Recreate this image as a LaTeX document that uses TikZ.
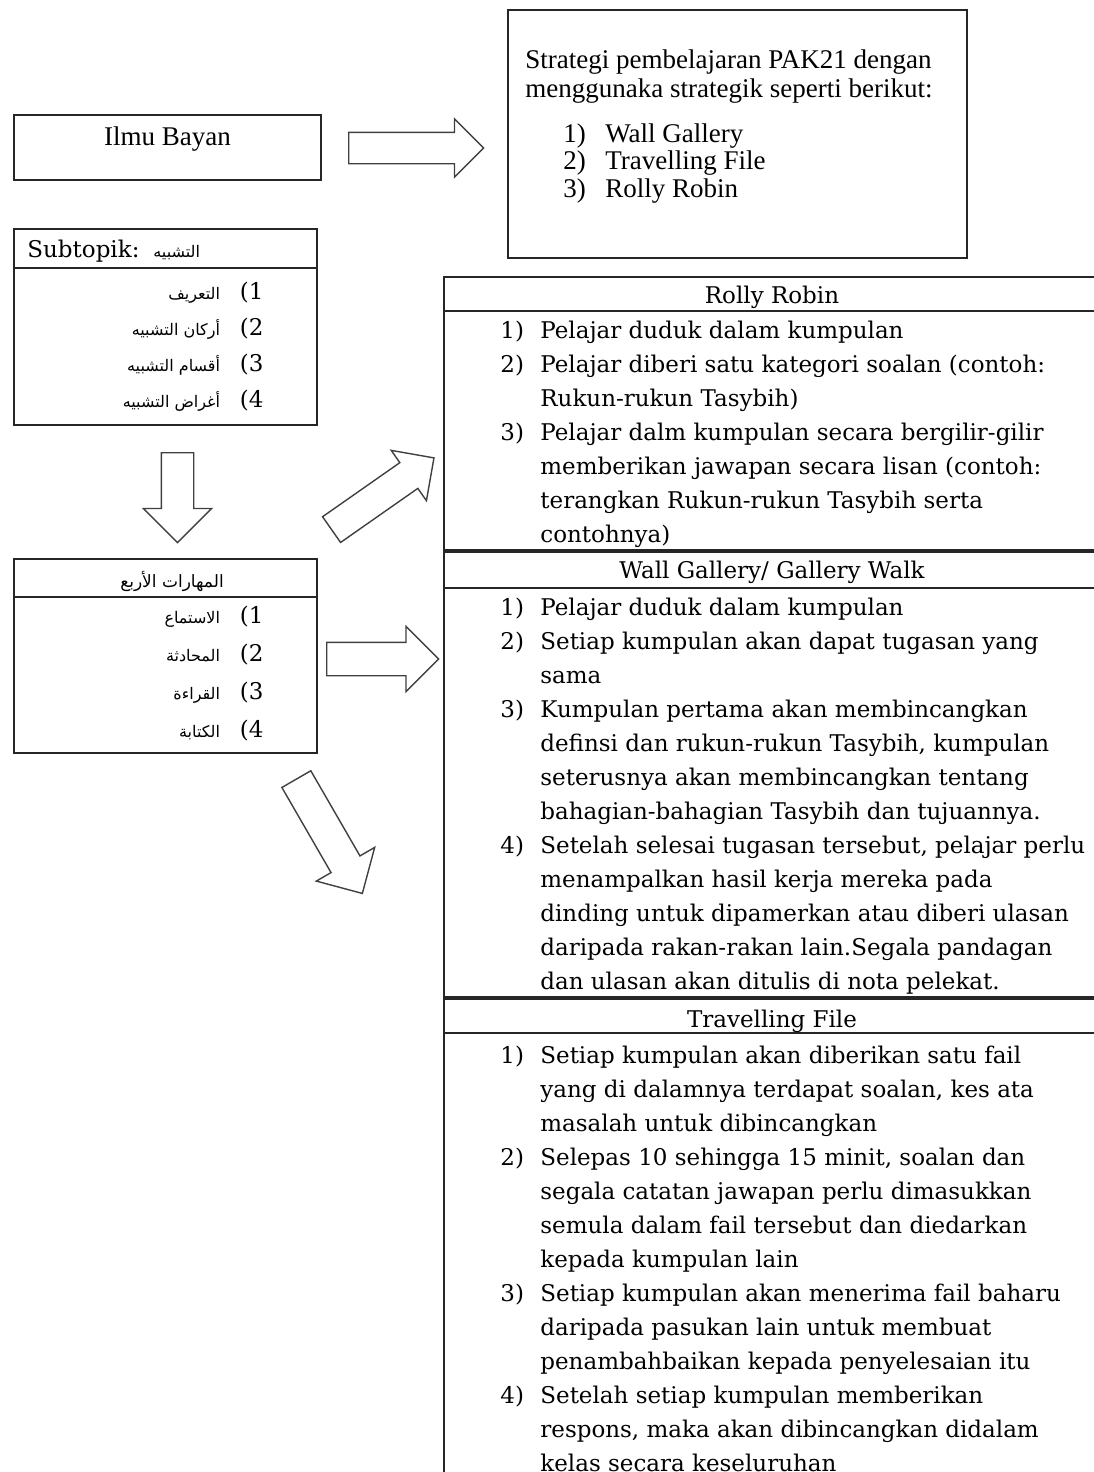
\documentclass[tikz,border=0pt]{standalone}
\usepackage{fontspec}
\setmainfont{Liberation Serif}
\newfontfamily\tabfont{DejaVu Serif}
\newfontfamily\arabicfont[Script=Arabic]{DejaVu Sans}
\TeXXeTstate=1
\usetikzlibrary{shapes.arrows,positioning,fit}

\newcommand{\ar}[1]{{\arabicfont\fontsize{8}{10}\selectfont\beginR #1\endR}}
\newcommand{\arbig}[1]{{\arabicfont\fontsize{8.5}{10}\selectfont\beginR #1\endR}}
\newcommand{\itm}[1]{\makebox[20pt][l]{#1)}}
\newcommand{\topitm}[1]{\makebox[21pt][l]{#1)}}
\newcommand{\hang}{\hspace*{20pt}}
\newcommand{\block}[1]{\begin{tabular}[t]{@{}l@{}}#1\end{tabular}}

\begin{document}
\begin{tikzpicture}[x=0.5pt,y=-0.5pt,
		box/.style={draw=black!85, line width=0.8pt, inner sep=0pt},
		sep/.style={draw=black!85, line width=0.8pt},
		thicksep/.style={draw=black!85, line width=1.6pt},
		blockarrow/.style={single arrow, draw=black!75, line width=0.7pt, fill=white,
			inner xsep=0pt, minimum width=0pt, single arrow tip angle=90, anchor=tail},
		times/.style={font=\fontsize{13.5}{14.5}\selectfont, inner sep=0pt},
		timeslist/.style={font=\fontsize{13.5}{13.75}\selectfont, inner sep=0pt},
		serif/.style={font=\tabfont\fontsize{11.5}{17}\selectfont, inner sep=0pt}
	]
	\useasboundingbox (0,0) rectangle (1093,1472);
	
	% left column
	\node[box, fit={(14,115) (321,180)}] (ilmu) {};
	\node[times, anchor=base] (ilmu_t) at (167.5,145) {Ilmu Bayan};
	
	\node[box, fit={(14,229) (317,425)}] (subtopik) {};
	\draw[sep] (14,268) -- (317,268);
	\node[serif, anchor=base west] (sub_hd) at (27,257) {Subtopik:};
	\node[inner sep=0pt, anchor=base west] (sub_ar) at (153,257) {\ar{التشبيه}};
	\foreach \txt [count=\i] in {التعريف, أركان التشبيه, أقسام التشبيه, أغراض التشبيه}
		\node[serif, anchor=base east] (sub_\i) at (264,{299+(\i-1)*36}) {\ar{\txt}\hspace{10pt}(\i};
	
	\node[box, fit={(14,559) (317,753)}] (maharat) {};
	\draw[sep] (14,597) -- (317,597);
	\node[inner sep=0pt, anchor=base] (mah_hd) at (172,587) {\arbig{المهارات الأربع}};
	\foreach \txt [count=\i] in {الاستماع, المحادثة, القراءة, الكتابة}
		\node[serif, anchor=base east] (mah_\i) at (264,{623+(\i-1)*38}) {\ar{\txt}\hspace{10pt}(\i};
	
	% strategi box
	\node[box, fit={(508,10) (967,258)}] (strategi) {};
	\node[times, anchor=base west] (str_t) at (525,68) {\block{Strategi pembelajaran PAK21 dengan\\
		menggunaka strategik seperti berikut:}};
	\node[timeslist, anchor=base west] (str_l) at (563,142) {\block{\topitm{1}Wall Gallery\\
		\topitm{2}Travelling File\\
		\topitm{3}Rolly Robin}};
	
	% table on the right
	\node[box, fit={(444,277) (1100,551)}] (rolly) {};
	\node[box, fit={(444,551) (1100,998)}] (wall) {};
	\node[box, fit={(444,998) (1100,1480)}] (travel) {};
	\draw[sep] (444,311) -- (1100,311);
	\draw[sep] (444,588) -- (1100,588);
	\draw[sep] (444,1033) -- (1100,1033);
	\draw[thicksep] (444,551) -- (1100,551);
	\draw[thicksep] (444,998) -- (1100,998);
	
	\node[serif, anchor=base] (rolly_hd) at (772,303) {Rolly Robin};
	\node[serif, anchor=base] (wall_hd) at (772,578) {Wall Gallery/ Gallery Walk};
	\node[serif, anchor=base] (travel_hd) at (772,1027) {Travelling File};
	
	\node[serif, anchor=base west] (rolly_l) at (500,338) {\block{\itm{1}Pelajar duduk dalam kumpulan\\
		\itm{2}Pelajar diberi satu kategori soalan (contoh:\\
		\hang Rukun-rukun Tasybih)\\
		\itm{3}Pelajar dalm kumpulan secara bergilir-gilir\\
		\hang memberikan jawapan secara lisan (contoh:\\
		\hang terangkan Rukun-rukun Tasybih serta\\
		\hang contohnya)}};
	
	\node[serif, anchor=base west] (wall_l) at (500,615) {\block{\itm{1}Pelajar duduk dalam kumpulan\\
		\itm{2}Setiap kumpulan akan dapat tugasan yang\\
		\hang sama\\
		\itm{3}Kumpulan pertama akan membincangkan\\
		\hang definsi dan rukun-rukun Tasybih, kumpulan\\
		\hang seterusnya akan membincangkan tentang\\
		\hang bahagian-bahagian Tasybih dan tujuannya.\\
		\itm{4}Setelah selesai tugasan tersebut, pelajar perlu\\
		\hang menampalkan hasil kerja mereka pada\\
		\hang dinding untuk dipamerkan atau diberi ulasan\\
		\hang daripada rakan-rakan lain.Segala pandagan\\
		\hang dan ulasan akan ditulis di nota pelekat.}};
	
	\node[serif, anchor=base west] (travel_l) at (500,1063) {\block{\itm{1}Setiap kumpulan akan diberikan satu fail\\
		\hang yang di dalamnya terdapat soalan, kes ata\\
		\hang masalah untuk dibincangkan\\
		\itm{2}Selepas 10 sehingga 15 minit, soalan dan\\
		\hang segala catatan jawapan perlu dimasukkan\\
		\hang semula dalam fail tersebut dan diedarkan\\
		\hang kepada kumpulan lain\\
		\itm{3}Setiap kumpulan akan menerima fail baharu\\
		\hang daripada pasukan lain untuk membuat\\
		\hang penambahbaikan kepada penyelesaian itu\\
		\itm{4}Setelah setiap kumpulan memberikan\\
		\hang respons, maka akan dibincangkan didalam\\
		\hang kelas secara keseluruhan}};
	
	% block arrows
	\node[blockarrow, inner ysep=7.5pt, minimum height=67.5pt, single arrow head extend=6.75pt] (arr_top) at (348,148) {};
	\node[blockarrow, inner ysep=7.75pt, minimum height=45pt, single arrow head extend=9pt, rotate=-90] (arr_down) at (177.5,452) {};
	\node[blockarrow, inner ysep=7.5pt, minimum height=62.5pt, single arrow head extend=7.5pt, rotate=35] (arr_rolly) at (331,530) {};
	\node[blockarrow, inner ysep=8pt, minimum height=56pt, single arrow head extend=8pt] (arr_wall) at (326,659) {};
	\node[blockarrow, inner ysep=8pt, minimum height=66pt, single arrow head extend=8.5pt, rotate=-60] (arr_travel) at (296,778.5) {};
\end{tikzpicture}
\end{document}
